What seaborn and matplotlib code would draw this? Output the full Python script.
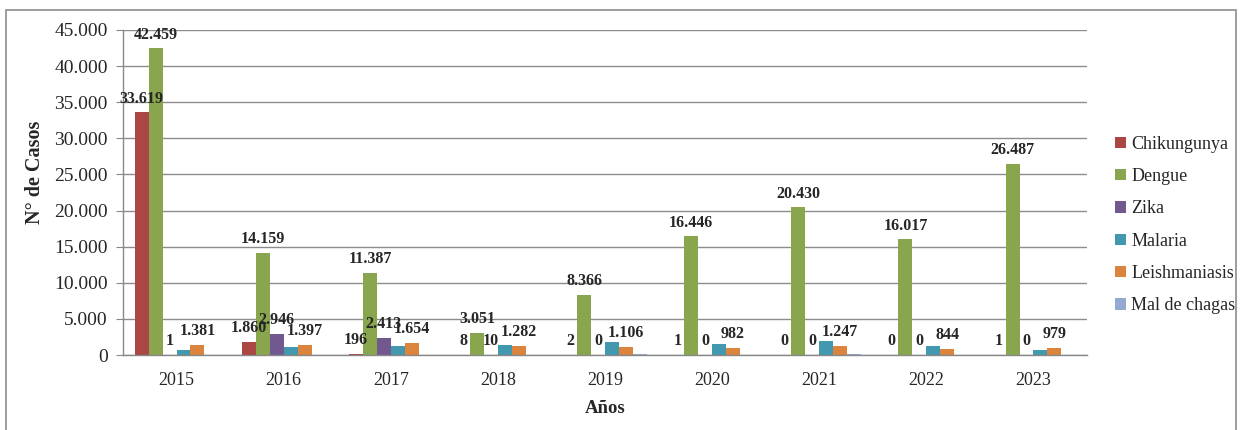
import matplotlib
matplotlib.use("Agg")
import matplotlib.pyplot as plt
import matplotlib.patches as mpatches
import seaborn as sns
import pandas as pd

years = ["2015", "2016", "2017", "2018", "2019", "2020", "2021", "2022", "2023"]
diseases = ["Chikungunya", "Dengue", "Zika", "Malaria", "Leishmaniasis", "Mal de chagas"]
chikungunya = [33619, 1860, 196, 8, 2, 1, 0, 0, 1]
dengue = [42459, 14159, 11387, 3051, 8366, 16446, 20430, 16017, 26487]
zika = [1, 2946, 2413, 10, 0, 0, 0, 0, 0]
malaria = [680, 1160, 1300, 1450, 1750, 1550, 1950, 1200, 700]
leishmaniasis = [1381, 1397, 1654, 1282, 1106, 982, 1247, 844, 979]
chagas = [20, 30, 20, 20, 150, 30, 180, 20, 20]
labelled = ["Chikungunya", "Dengue", "Zika", "Leishmaniasis"]

colors = ["#AA4643", "#89A54E", "#71588F", "#4198AF", "#DB843D", "#93A9CF"]

series = [chikungunya, dengue, zika, malaria, leishmaniasis, chagas]
rows = []
for d, vals in zip(diseases, series):
    for y, v in zip(years, vals):
        rows.append({"Año": y, "Casos": v, "Enfermedad": d})
df = pd.DataFrame(rows)

sns.set_style("white")
plt.rcParams["font.family"] = ["Liberation Serif", "DejaVu Serif"]

fig = plt.figure(figsize=(12.42, 4.30), dpi=100)
ax = fig.add_axes([123 / 1242, 1 - 355 / 430, (1087 - 123) / 1242, (355 - 30) / 430])

sns.barplot(data=df, x="Año", y="Casos", hue="Enfermedad", hue_order=diseases,
            order=years, palette=colors, saturation=1, width=0.78, ax=ax,
            errorbar=None, edgecolor="none", linewidth=0)

ax.set_ylim(0, 45000)
ax.set_yticks(range(0, 45001, 5000))
ax.set_yticklabels([f"{t:,}".replace(",", ".") for t in range(0, 45001, 5000)], fontsize=14)
ax.tick_params(axis="x", labelsize=13, length=0, pad=12)
ax.tick_params(axis="y", length=5, color="#888888", direction="out", left=True, pad=6)
ax.yaxis.grid(True, color="#8c8c8c", linewidth=1)
ax.set_axisbelow(True)
for s in ["top", "right"]:
    ax.spines[s].set_visible(False)
for s in ["left", "bottom"]:
    ax.spines[s].set_color("#888888")
    ax.spines[s].set_linewidth(1)

ax.set_xlabel("Años", fontsize=13.5, fontweight="bold", labelpad=8)
ax.set_ylabel("N° de Casos", fontsize=14.5, fontweight="bold")
ax.yaxis.set_label_coords(-0.081, 0.563)

for cont, d in zip(ax.containers, diseases):
    if d in labelled:
        ax.bar_label(cont, labels=[f"{int(v):,}".replace(",", ".") for v in cont.datavalues],
                     padding=4, fontsize=11.5, fontweight="bold")

leg = ax.legend(loc="center left", bbox_to_anchor=(1.029, 0.40), frameon=False,
                fontsize=13, handlelength=0.6, handleheight=0.6, handletextpad=0.3,
                labelspacing=0.85, borderaxespad=0, borderpad=0)

fig.patches.append(mpatches.Rectangle((6 / 1242, -0.02), 1230 / 1242, 1 - 10 / 430 + 0.02,
                                      transform=fig.transFigure, fill=False,
                                      edgecolor="#8c8c8c", linewidth=1.2))

fig.savefig("out.png", dpi=100)
